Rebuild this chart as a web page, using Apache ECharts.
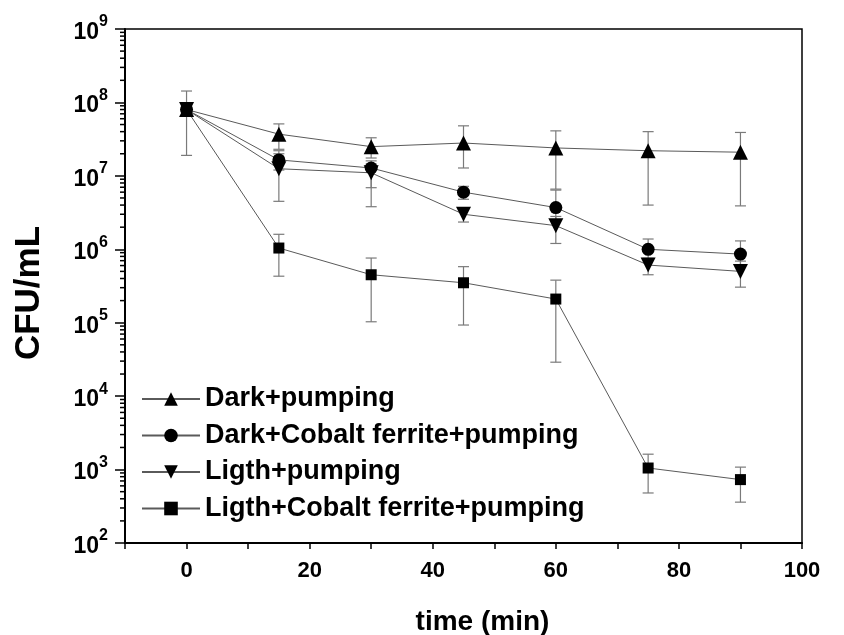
<!DOCTYPE html>
<html>
<head>
<meta charset="utf-8">
<script src="https://cdn.jsdelivr.net/npm/echarts@6/dist/echarts.min.js"></script>
<style>
  html, body { margin: 0; padding: 0; background: #fff; }
  #chart-container { width: 844px; height: 635px; }
</style>
</head>
<body>
<div id="chart-container"></div>
<script>
// tiempos de muestreo (min)
const times = [0, 15, 30, 45, 60, 75, 90];
const seriesNames = [
    'Dark+pumping',
    'Dark+Cobalt ferrite+pumping',
    'Ligth+pumping',
    'Ligth+Cobalt ferrite+pumping'
];

// valores medios (CFU/mL)
const darkPump    = [8.0e7, 3.7e7, 2.5e7, 2.8e7, 2.4e7, 2.2e7, 2.1e7];
const darkCobalt  = [8.0e7, 1.65e7, 1.28e7, 6.0e6, 3.7e6, 1.0e6, 8.6e5];
const ligthPump   = [8.0e7, 1.25e7, 1.1e7, 3.0e6, 2.1e6, 6.1e5, 5.0e5];
const ligthCobalt = [8.0e7, 1.04e6, 4.5e5, 3.5e5, 2.1e5, 1.05e3, 7.3e2];

// barras de error (limite inferior / superior)
const darkPumpLow     = [1.9e7, 2.3e7, 1.75e7, 1.28e7, 6.6e6, 4.0e6, 3.9e6];
const darkPumpHigh    = [1.43e8, 5.1e7, 3.3e7, 4.8e7, 4.1e7, 4.0e7, 3.9e7];
const darkCobaltLow   = [null, 1.2e7, 6.9e6, 4.8e6, 2.5e6, 7.5e5, 6.0e5];
const darkCobaltHigh  = [null, 2.2e7, 1.6e7, 7.2e6, 6.4e6, 1.38e6, 1.3e6];
const ligthPumpLow    = [null, 4.5e6, 3.8e6, 2.35e6, 1.2e6, 4.5e5, 3.05e5];
const ligthPumpHigh   = [null, 2.0e7, 1.45e7, 3.6e6, 2.8e6, 7.5e5, 6.9e5];
const ligthCobaltLow  = [null, 4.3e5, 1.03e5, 9.3e4, 2.9e4, 4.8e2, 3.6e2];
const ligthCobaltHigh = [null, 1.6e6, 7.6e5, 5.8e5, 3.8e5, 1.62e3, 1.08e3];

// ticks del eje logaritmico
const decades = [2, 3, 4, 5, 6, 7, 8];
const minorMultipliers = [2, 3, 4, 5, 6, 7, 8, 9];

const font = 'Arial, "Liberation Sans", sans-serif';

function toPoints(values) {
    return times.map((t, i) => [t, values[i]]);
}

function toErrors(low, high) {
    return times
        .map((t, i) => (low[i] == null ? null : [t, low[i], high[i]]))
        .filter(d => d !== null);
}

function renderErrorBar(params, api) {
    const x = api.value(0);
    const lo = api.coord([x, api.value(1)]);
    const hi = api.coord([x, api.value(2)]);
    const w = 5.5;
    const style = { stroke: '#7a7a7a', lineWidth: 1.2 };
    return {
        type: 'group',
        children: [
            { type: 'line', shape: { x1: lo[0], y1: lo[1], x2: hi[0], y2: hi[1] }, style: style },
            { type: 'line', shape: { x1: lo[0] - w, y1: lo[1], x2: lo[0] + w, y2: lo[1] }, style: style },
            { type: 'line', shape: { x1: hi[0] - w, y1: hi[1], x2: hi[0] + w, y2: hi[1] }, style: style }
        ]
    };
}

function renderMinorTick(params, api) {
    const p = api.coord([-10, api.value(0)]);
    return {
        type: 'line',
        shape: { x1: p[0] - 5, y1: p[1], x2: p[0], y2: p[1] },
        style: { stroke: '#000', lineWidth: 1.5 }
    };
}

const minorTickValues = [];
decades.forEach(d => minorMultipliers.forEach(m => minorTickValues.push([m * Math.pow(10, d)])));

function lineSeries(name, values, symbol, size, rotate) {
    return {
        name: name,
        type: 'line',
        data: toPoints(values),
        symbol: symbol,
        symbolSize: size,
        symbolRotate: rotate || 0,
        showAllSymbol: true,
        lineStyle: { color: '#5a5a5a', width: 1 },
        itemStyle: { color: '#000', borderWidth: 0 },
        z: 3,
        animation: false
    };
}

function errorSeries(low, high) {
    return {
        type: 'custom',
        renderItem: renderErrorBar,
        data: toErrors(low, high),
        encode: { x: 0, y: [1, 2] },
        z: 2,
        silent: true,
        animation: false
    };
}

const chart = echarts.init(document.getElementById('chart-container'));

const option = {
    animation: false,
    backgroundColor: '#fff',
    grid: {
        left: 125, right: 42, top: 29, bottom: 92,
        outerBoundsMode: 'none',
        containLabel: false,
        show: true, borderColor: '#000', borderWidth: 1.5
    },
    legend: {
        data: seriesNames,
        orient: 'vertical',
        left: 136,
        top: 379,
        itemWidth: 58,
        itemHeight: 17,
        itemGap: 6.5,
        textStyle: { fontFamily: font, fontWeight: 'bold', fontSize: 27, color: '#000', lineHeight: 30 }
    },
    xAxis: {
        type: 'value',
        min: -10,
        max: 100,
        interval: 10,
        name: 'time (min)',
        nameLocation: 'middle',
        nameGap: 65,
        nameTextStyle: {
            fontFamily: font, fontWeight: 'bold', fontSize: 28, color: '#000',
            padding: [0, 0, 0, 38]
        },
        axisLine: { onZero: false, lineStyle: { color: '#000', width: 2 } },
        axisTick: { length: 6, lineStyle: { color: '#000', width: 1.5 } },
        axisLabel: {
            margin: 17,
            fontFamily: font, fontWeight: 'bold', fontSize: 22, color: '#000',
            formatter: v => (v % 20 === 0 ? String(v) : '')
        },
        splitLine: { show: false }
    },
    yAxis: {
        type: 'log',
        logBase: 10,
        min: 1e2,
        max: 1e9,
        name: 'CFU/mL',
        nameLocation: 'middle',
        nameGap: 78,
        nameTextStyle: {
            fontFamily: font, fontWeight: 'bold', fontSize: 35, color: '#000',
            padding: [0, 14, 0, 0]
        },
        axisLine: { onZero: false, lineStyle: { color: '#000', width: 2 } },
        axisTick: { length: 10, lineStyle: { color: '#000', width: 1.5 } },
        axisLabel: {
            margin: 17,
            color: '#000',
            formatter: v => '{b|10}{sup|' + Math.round(Math.log10(v)) + '}',
            rich: {
                b: { fontFamily: font, fontWeight: 'bold', fontSize: 23, color: '#000', verticalAlign: 'bottom', lineHeight: 30 },
                sup: { fontFamily: font, fontWeight: 'bold', fontSize: 16, color: '#000', verticalAlign: 'top', lineHeight: 16 }
            }
        },
        splitLine: { show: false }
    },
    series: [
        {
            type: 'custom',
            renderItem: renderMinorTick,
            data: minorTickValues,
            encode: { y: 0 },
            clip: false,
            silent: true,
            z: 4
        },
        errorSeries(darkPumpLow, darkPumpHigh),
        errorSeries(darkCobaltLow, darkCobaltHigh),
        errorSeries(ligthPumpLow, ligthPumpHigh),
        errorSeries(ligthCobaltLow, ligthCobaltHigh),
        lineSeries(seriesNames[0], darkPump, 'triangle', 15),
        lineSeries(seriesNames[1], darkCobalt, 'circle', 13),
        lineSeries(seriesNames[2], ligthPump, 'triangle', 15, 180),
        lineSeries(seriesNames[3], ligthCobalt, 'rect', 11)
    ]
};

chart.setOption(option);
</script>
</body>
</html>
